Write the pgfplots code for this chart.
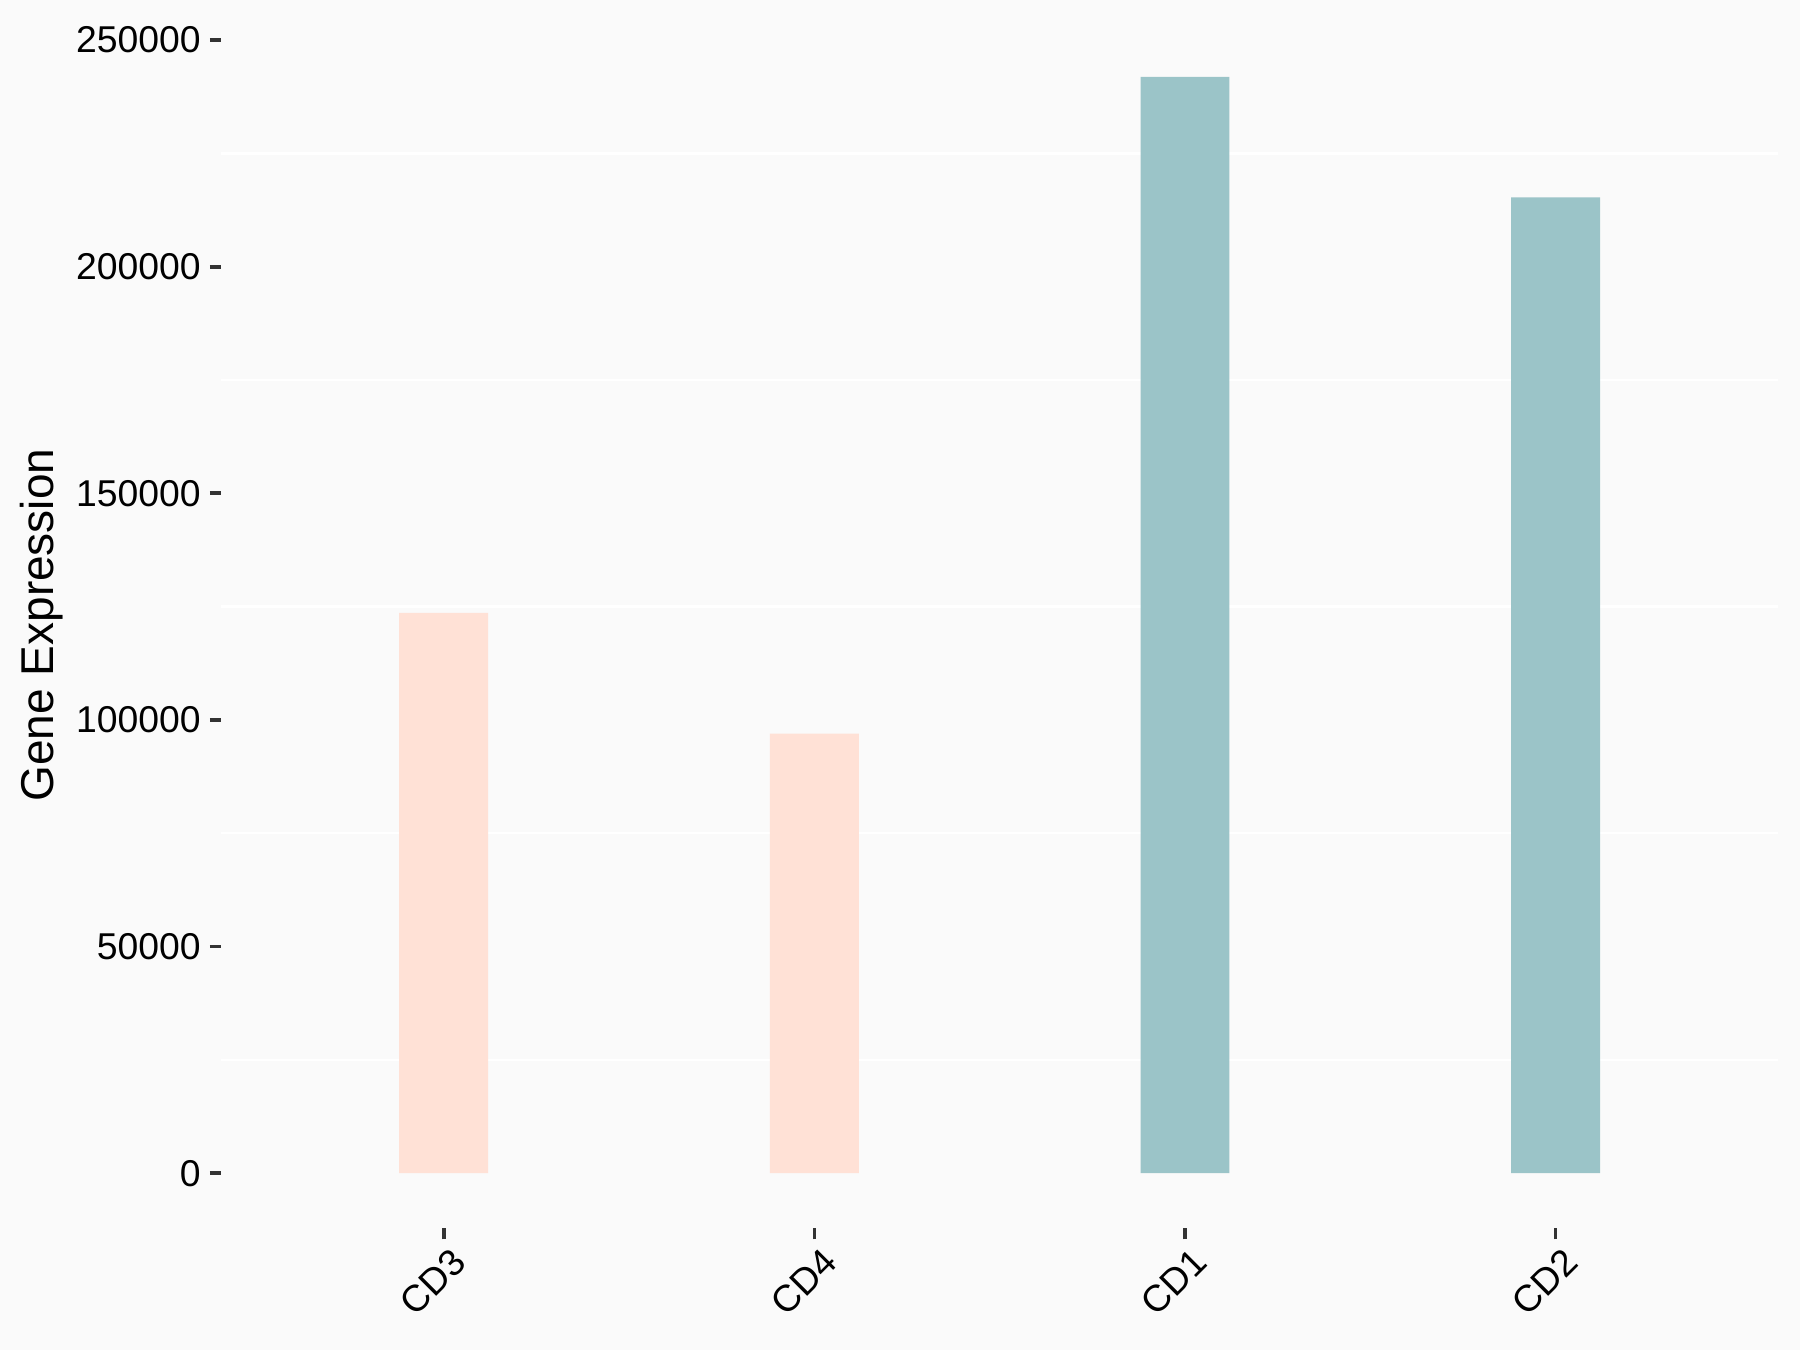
\documentclass[border=0pt]{standalone}
\usepackage{fontspec}
\setmainfont{Liberation Sans}
\usepackage{pgfplots}
\pgfplotsset{compat=1.18}
\definecolor{bg}{HTML}{FAFAFA}
\definecolor{rosa}{HTML}{FFE1D6}
\definecolor{verde}{HTML}{9BC4C8}
\definecolor{tickgray}{HTML}{333333}

\begin{document}
\begin{tikzpicture}
\fill[bg] (0,0) rectangle (540bp,405bp);
\path[use as bounding box] (0,0) rectangle (540bp,405bp);
\begin{axis}[at={(66.4bp,36.6bp)},anchor=south west,scale only axis,
  width=467bp,height=361.8bp,
  xmin=-0.6,xmax=3.6,ymin=-12095,ymax=253995,
  axis line style={draw=none},tick pos=left,tick align=outside,
  major tick length=3.4bp,minor tick length=0pt,
  major tick style={tickgray,line width=1.1bp},
  xtick={0,1,2,3},xticklabels={CD3,CD4,CD1,CD2},
  ytick={0,50000,...,250000},
  minor ytick={25000,75000,...,225000},
  yminorgrids,minor grid style={white,line width=0.7bp},
  scaled y ticks=false,
  /pgf/number format/assume math mode=true,
  yticklabel={\pgfmathprintnumber[fixed,1000 sep={}]{\tick}},
  tick label style={font=\fontsize{11.2bp}{13bp}\selectfont,black},
  xticklabel style={rotate=45,anchor=north east,inner sep=0pt,yshift=-2.6bp},
  yticklabel style={inner sep=0pt,xshift=-2.6bp},
  ylabel={Gene Expression},
  ylabel style={font=\fontsize{13.8bp}{16bp}\selectfont,at={(axis description cs:-0.1154,0.5)},anchor=center},
  ybar,bar width=0.24,bar shift=0pt]
\addplot[draw=none,fill=rosa] coordinates {(0,123600) (1,97000)};
\addplot[draw=none,fill=verde] coordinates {(2,241900) (3,215300)};
\end{axis}
\end{tikzpicture}
\end{document}
